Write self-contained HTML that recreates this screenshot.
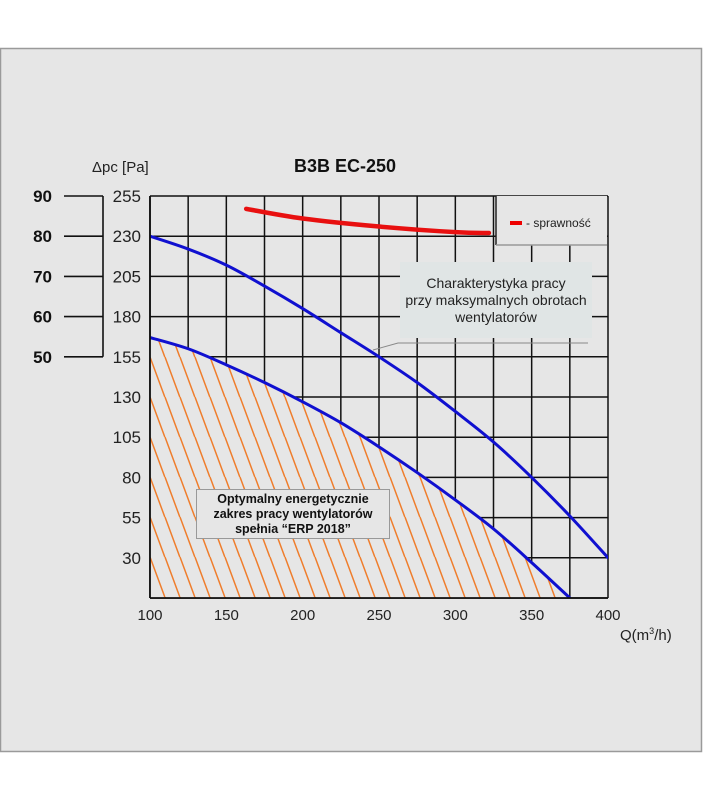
<!DOCTYPE html>
<html><head><meta charset="utf-8"><style>
html,body{margin:0;padding:0;background:#fff;width:704px;height:800px;overflow:hidden}
svg{display:block;font-family:"Liberation Sans",Arial,sans-serif}
</style></head><body>
<svg width="704" height="800" viewBox="0 0 704 800">
<defs>
<pattern id="hatch" patternUnits="userSpaceOnUse" width="15" height="40" x="150" y="437">
<path d="M0,0 L14.8,40 M-15,0 L-0.2,40 M15,0 L29.8,40" stroke="#ef7d2c" stroke-width="1.5" fill="none"/>
</pattern>
<clipPath id="plotclip"><rect x="150" y="196" width="458" height="402"/></clipPath>
</defs>
<rect x="0.5" y="48.5" width="701" height="703" fill="#e6e6e6" stroke="#9a9a9a" stroke-width="1.5"/>
<text x="345" y="172" font-size="18" font-weight="bold" text-anchor="middle" fill="#111">B3B EC-250</text>
<text x="92" y="172" font-size="15" fill="#222">Δpc [Pa]</text>
<g id="grid"></g>
<g id="hatchg" clip-path="url(#plotclip)"></g>
<g id="series" clip-path="url(#plotclip)"></g>
<g id="axes"></g>
<g>
<rect x="496" y="196" width="111" height="49" fill="#e6e6e6"/>
<line x1="496" y1="196" x2="496" y2="245" stroke="#222" stroke-width="1.5"/>
<line x1="496" y1="245" x2="607" y2="245" stroke="#999" stroke-width="1.5"/>
<line x1="510" y1="223" x2="522" y2="223" stroke="#e00" stroke-width="4"/>
<text x="526" y="227" font-size="12" fill="#222">- sprawność</text>
</g>
<g>
<rect x="400" y="262" width="192" height="76" fill="#e0e5e5"/>
<text font-size="14" fill="#222" text-anchor="middle"><tspan x="496" y="288">Charakterystyka pracy</tspan><tspan x="496" y="305">przy maksymalnych obrotach</tspan><tspan x="496" y="322">wentylatorów</tspan></text>
<polyline points="373,350 398,343 588,343" fill="none" stroke="#888" stroke-width="1"/>
</g>
<g id="erp">
<rect x="196.5" y="489.5" width="193" height="49" fill="#e6e6e6" stroke="#999" stroke-width="1"/>
<text font-size="12.5" font-weight="bold" fill="#111" text-anchor="middle"><tspan x="293" y="503">Optymalny energetycznie</tspan><tspan x="293" y="518">zakres pracy wentylatorów</tspan><tspan x="293" y="533">spełnia “ERP 2018”</tspan></text>
</g>
<text x="620" y="640" font-size="15" fill="#222">Q(m<tspan font-size="9" dy="-6">3</tspan><tspan dy="6">/h)</tspan></text>
</svg>
<script>
const xTicks=[100,125,150,175,200,225,250,275,300,325,350,375,400];
const xLabels=[100,150,200,250,300,350,400];
const yTicks=[255,230,205,180,155,130,105,80,55,30];
const leftTicks=[90,80,70,60,50];
const maxQ=[100,125,150,175,200,225,250,275,300,325,350,375,400];
const maxP=[230,222,212,199,185,170,155,139,121,102,80,56,30];
const lowQ=[100,125,150,175,200,225,250,275,300,325,350,375];
const lowP=[167,160,150,139,127,114,99,83,66,48,27,5];
const effQ=[163,200,250,300,322];
const effP=[247,241,236,232.5,232];
const NS='http://www.w3.org/2000/svg';
const X=q=>150+(q-100)*(458/300);
const Y=p=>598-(p-5)*(402/250);
function mk(t,a,parent){const e=document.createElementNS(NS,t);for(const k in a)e.setAttribute(k,a[k]);parent.appendChild(e);return e;}
function smooth(qs,ps){const P=qs.map((q,i)=>[X(q),Y(ps[i])]);let d='M'+P[0][0]+','+P[0][1];
for(let i=0;i<P.length-1;i++){const p0=P[Math.max(i-1,0)],p1=P[i],p2=P[i+1],p3=P[Math.min(i+2,P.length-1)];
const c1=[p1[0]+(p2[0]-p0[0])/6,p1[1]+(p2[1]-p0[1])/6],c2=[p2[0]-(p3[0]-p1[0])/6,p2[1]-(p3[1]-p1[1])/6];
d+=' C'+c1[0]+','+c1[1]+' '+c2[0]+','+c2[1]+' '+p2[0]+','+p2[1];}return d;}
const grid=document.getElementById('grid');
xTicks.forEach(q=>{const l=mk('line',{x1:X(q),y1:196,x2:X(q),y2:598,stroke:'#111','stroke-width':1.5},grid);

});
yTicks.concat([5]).forEach(p=>{const l=mk('line',{x1:150,y1:Y(p),x2:608,y2:Y(p),stroke:'#111','stroke-width':1.5},grid);

});
const hg=document.getElementById('hatchg');
const d=smooth(lowQ,lowP)+' L150,598 Z';
const hp=mk('path',{d:d,fill:'#e6e6e6'},hg);


const hp2=mk('path',{d:d,fill:'url(#hatch)'},hg);


const s=document.getElementById('series');
function line(qs,ps,col,w,name){
const e=mk('path',{d:smooth(qs,ps),fill:'none',stroke:col,'stroke-width':w,'stroke-linecap':'round'},s);

}
line(maxQ,maxP,'#1010d0',3,'max-speed-curve');
line(lowQ,lowP,'#1010d0',3,'erp-limit-curve');
line(effQ,effP,'#e81010',4.5,'efficiency-curve');
const ax=document.getElementById('axes');
mk('line',{x1:150,y1:196,x2:150,y2:598,stroke:'#111','stroke-width':1.8},ax);
mk('line',{x1:150,y1:598,x2:608,y2:598,stroke:'#111','stroke-width':1.8},ax);
yTicks.forEach(p=>{const t=mk('text',{x:141,y:Y(p)+6,'font-size':17,'text-anchor':'end',fill:'#222'},ax);t.textContent=p;

});
xLabels.forEach(q=>{const t=mk('text',{x:X(q),y:620,'font-size':15,'text-anchor':'middle',fill:'#222'},ax);t.textContent=q;

});
leftTicks.forEach((v,i)=>{const y=Y(yTicks[i]);
const t=mk('text',{x:52,y:y+6,'font-size':17,'font-weight':'bold','text-anchor':'end',fill:'#111'},ax);t.textContent=v;


mk('line',{x1:64,y1:y,x2:103,y2:y,stroke:'#111','stroke-width':1.6},ax);});
mk('line',{x1:103,y1:Y(yTicks[0]),x2:103,y2:Y(yTicks[4]),stroke:'#111','stroke-width':1.6},ax);
</script>
</body></html>
